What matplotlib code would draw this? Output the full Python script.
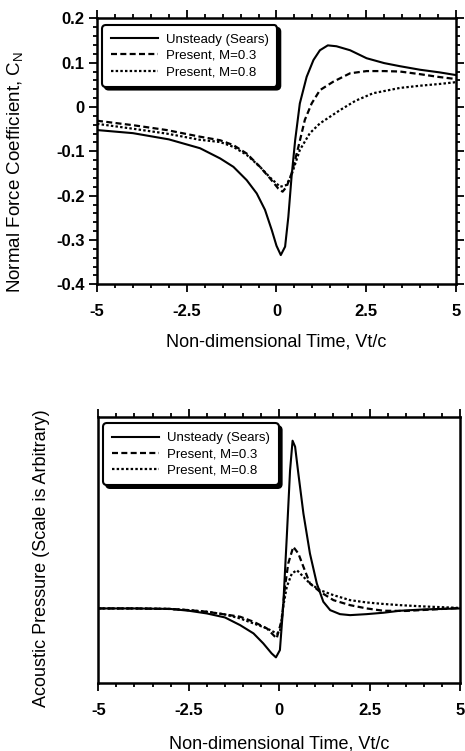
import matplotlib
matplotlib.use("Agg")
import matplotlib.pyplot as plt
from matplotlib.ticker import MultipleLocator

plt.rcParams['font.family'] = ['Liberation Sans', 'DejaVu Sans']
plt.rcParams['mathtext.default'] = 'regular'

# top panel: normal force coefficient
t_sears = [-5, -4, -3, -2.13, -1.57, -1.2, -0.83, -0.55, -0.32, -0.13, 0.0, 0.12, 0.24, 0.33, 0.42,
           0.52, 0.65, 0.84, 1.03, 1.21, 1.43, 1.67, 2.05, 2.51, 3.0, 3.44, 4.0, 4.55, 5.0]
cn_sears = [-0.052, -0.059, -0.073, -0.093, -0.116, -0.135, -0.165, -0.195, -0.232, -0.278, -0.313, -0.334,
            -0.315, -0.248, -0.157, -0.075, 0.008, 0.068, 0.106, 0.128, 0.139, 0.137, 0.128, 0.110, 0.099,
            0.092, 0.084, 0.078, 0.072]

t_m03 = [-5, -4, -3.06, -2.13, -1.57, -1.2, -0.83, -0.46, -0.18, 0.05, 0.17, 0.28, 0.42, 0.61, 0.79,
         0.98, 1.21, 1.58, 2.05, 2.51, 3.0, 3.44, 4.0, 4.5, 5.0]
cn_m03 = [-0.031, -0.041, -0.052, -0.067, -0.075, -0.086, -0.105, -0.135, -0.161, -0.184, -0.191, -0.180,
          -0.150, -0.090, -0.029, 0.008, 0.038, 0.057, 0.076, 0.081, 0.081, 0.080, 0.074, 0.068, 0.063]

t_m08 = [-5, -4, -3.06, -2.13, -1.57, -1.2, -0.83, -0.46, -0.18, 0.1, 0.28, 0.42, 0.65, 0.93, 1.21,
         1.49, 1.77, 2.2, 2.69, 3.44, 4.0, 4.55, 5.0]
cn_m08 = [-0.038, -0.049, -0.060, -0.074, -0.079, -0.090, -0.108, -0.135, -0.159, -0.180, -0.176, -0.153,
          -0.097, -0.059, -0.037, -0.022, -0.007, 0.014, 0.031, 0.043, 0.048, 0.052, 0.056]

# bottom panel: acoustic pressure (arbitrary units)
tp_sears = [-5, -4, -3, -2.5, -2, -1.5, -1.08, -0.71, -0.44, -0.21, -0.09, 0.02, 0.11, 0.21, 0.30, 0.37,
            0.44, 0.53, 0.67, 0.85, 1.04, 1.22, 1.41, 1.68, 1.96, 2.42, 2.88, 3.34, 4.0, 5.0]
p_sears = [0, 0, -0.05, -0.23, -0.5, -0.9, -1.67, -2.5, -3.5, -4.5, -4.9, -4.17, 0.17, 7.17, 13.8, 16.8,
           16.2, 13.5, 9.5, 5.5, 2.5, 0.67, -0.17, -0.57, -0.67, -0.57, -0.43, -0.23, -0.1, 0.0]

tp_m03 = [-5, -4, -3, -2.5, -2, -1.5, -1.08, -0.71, -0.34, -0.07, 0.07, 0.16, 0.25, 0.39, 0.53, 0.67,
          0.85, 1.13, 1.5, 1.96, 2.42, 2.88, 3.5, 4.0, 5.0]
p_m03 = [0, 0, -0.05, -0.17, -0.33, -0.6, -0.83, -1.33, -2.0, -3.0, -1.17, 2.17, 4.5, 6.17, 5.5, 4.17,
         2.5, 1.67, 0.83, 0.33, 0, -0.23, -0.25, -0.15, 0.05]

tp_m08 = [-5, -4, -3, -2.5, -2, -1.5, -1.08, -0.71, -0.34, -0.07, 0.02, 0.11, 0.21, 0.35, 0.49, 0.67,
          0.85, 1.13, 1.5, 1.96, 2.42, 2.88, 3.34, 4.0, 5.0]
p_m08 = [0, 0, -0.05, -0.17, -0.33, -0.6, -1.0, -1.5, -2.0, -2.5, -2.33, 0.17, 2.17, 3.5, 3.83, 3.17,
         2.5, 1.83, 1.33, 0.83, 0.6, 0.45, 0.33, 0.2, 0.05]

labels = ['Unsteady (Sears)', 'Present, M=0.3', 'Present, M=0.8']
xticks = [-5, -2.5, 0, 2.5, 5]
xticklabels = ['-5', '-2.5', '0', '2.5', '5']
yticks = [0.2, 0.1, 0, -0.1, -0.2, -0.3, -0.4]
yticklabels = ['0.2', '0.1', '0', '-0.1', '-0.2', '-0.3', '-0.4']

fig = plt.figure(figsize=(4.65, 7.51), dpi=100)
ax1 = fig.add_axes([0.2086, 0.6214, 0.772, 0.3542])
ax2 = fig.add_axes([0.2114, 0.0901, 0.778, 0.355])


def draw(ax, t1, y1, t2, y2, t3, y3):
    ax.plot(t1, y1, color='black', lw=1.5, label=labels[0])
    ax.plot(t2, y2, color='black', lw=1.6, dashes=(2.7, 1.5), label=labels[1])
    ax.plot(t3, y3, color='black', lw=1.6, dashes=(1.1, 1.0), label=labels[2])
    ax.set_xlim(-5, 5)
    ax.set_xticks(xticks)
    ax.set_xticklabels(xticklabels, fontweight='bold', fontsize=12)
    ax.xaxis.set_minor_locator(MultipleLocator(0.5))
    for s in ax.spines.values():
        s.set_linewidth(1.8)
    ax.set_xlabel('Non-dimensional Time, Vt/c', fontsize=13)
    leg = ax.legend(loc='upper left', bbox_to_anchor=(0.014, 0.975), borderaxespad=0,
                    fontsize=9.5, handlelength=3.6, handletextpad=0.6, labelspacing=0.3,
                    borderpad=0.65, fancybox=True, shadow={'color': 'black', 'alpha': 1},
                    framealpha=1)
    leg.get_frame().set_edgecolor('black')
    leg.get_frame().set_linewidth(1.5)
    leg.get_frame().set_boxstyle('round', pad=0, rounding_size=0.3)


draw(ax1, t_sears, cn_sears, t_m03, cn_m03, t_m08, cn_m08)
ax1.set_ylim(-0.4, 0.2)
ax1.set_yticks(yticks)
ax1.set_yticklabels(yticklabels, fontweight='bold', fontsize=12)
ax1.yaxis.set_minor_locator(MultipleLocator(0.02))
ax1.tick_params(which='both', direction='out', top=True, right=True, width=1.3)
ax1.tick_params(which='major', length=6, pad=3)
ax1.tick_params(which='minor', length=3)
ax1.tick_params(axis='x', which='major', pad=8)
ax1.set_ylabel('Normal Force Coefficient, C$_N$', fontsize=13.5)
ax1.yaxis.set_label_coords(-0.20, 0.424)
ax1.xaxis.set_label_coords(0.5, -0.185)

draw(ax2, tp_sears, p_sears, tp_m03, p_m03, tp_m08, p_m08)
ax2.set_ylim(-7.5, 19.2)
ax2.set_yticks([])
ax2.tick_params(which='both', direction='out', top=True, right=False, left=False, width=1.3)
ax2.tick_params(which='major', length=6, pad=8)
ax2.tick_params(which='minor', length=3)
ax2.set_ylabel('Acoustic Pressure (Scale is Arbitrary)', fontsize=13)
ax2.yaxis.set_label_coords(-0.134, 0.47)
ax2.xaxis.set_label_coords(0.5, -0.195)

fig.savefig('out.png', dpi=100)
